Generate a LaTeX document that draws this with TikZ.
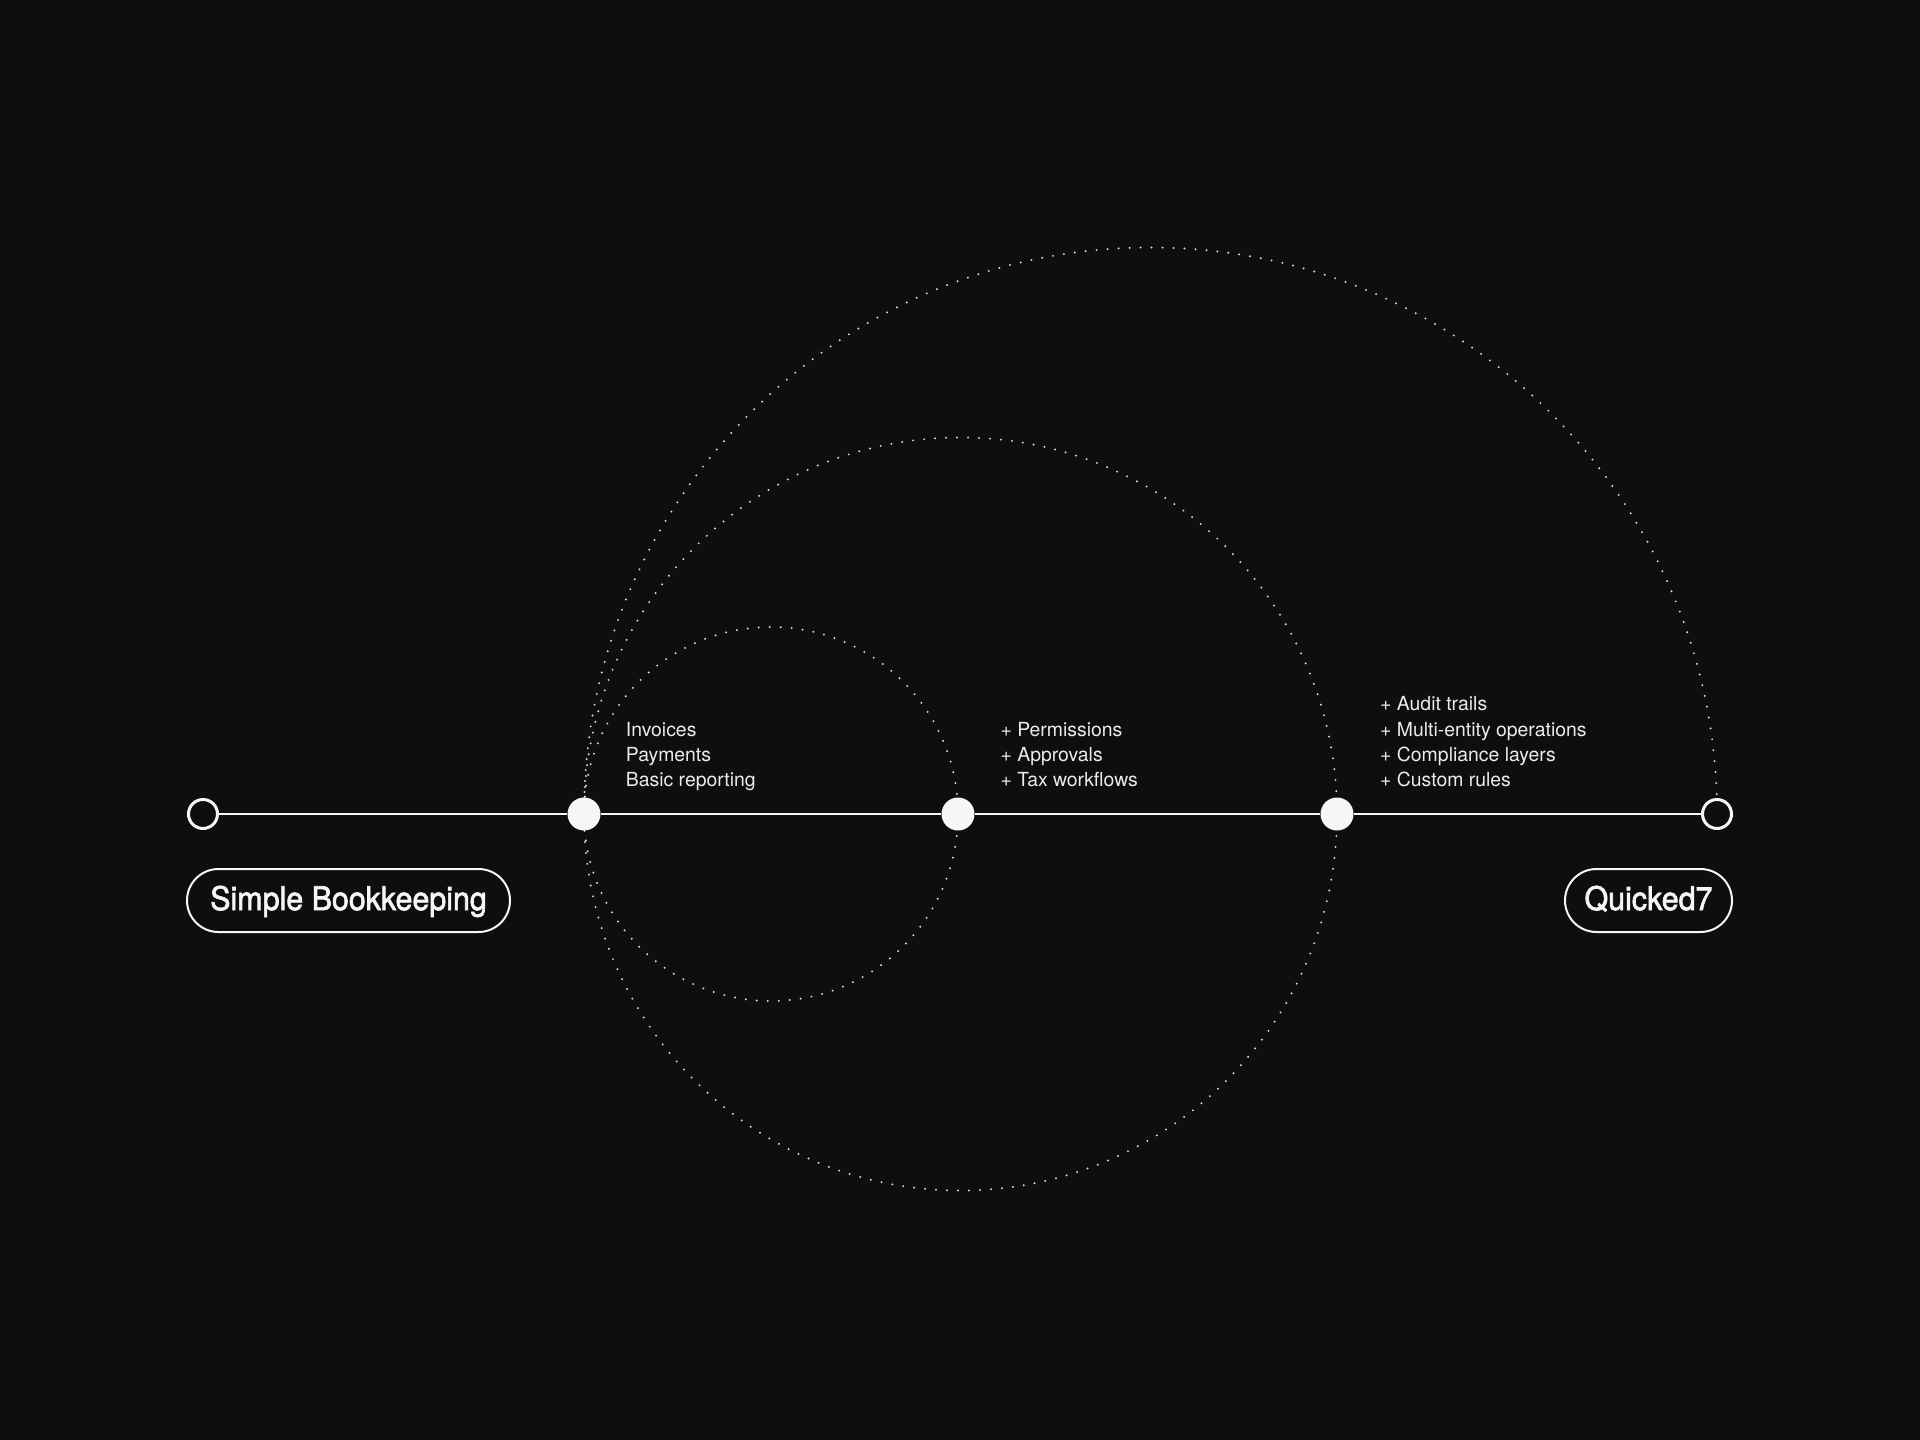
\documentclass[tikz,border=0pt]{standalone}
\usepackage{fontspec}
\setmainfont{TeX Gyre Heros}
\newfontfamily\headfont[FakeStretch=0.935,FakeBold=2]{TeX Gyre Heros}
\definecolor{bg}{HTML}{0E0E0E}
\definecolor{ink}{HTML}{F6F6F6}
\definecolor{dotc}{HTML}{D8D8D8}
\definecolor{txt}{HTML}{EBEBEB}
\begin{document}
\begin{tikzpicture}[x=1pt,y=-1pt,
  dotline/.style={draw=dotc,line width=2.2pt,line cap=round,dash pattern=on 0pt off 11pt},
  mainline/.style={draw=ink,line width=2pt},
  hollow/.style={circle,draw=ink,line width=3pt,fill=bg,minimum size=29pt,inner sep=0pt},
  solid/.style={circle,fill=ink,minimum size=33pt,inner sep=0pt},
  listtext/.style={text=txt,anchor=base west,inner sep=0pt,font=\fontsize{19.4}{25.4}\selectfont},
  pill/.style={draw=ink,line width=2pt,rounded corners=31.5pt,minimum height=63pt,inner sep=0pt,
    text=ink,text height=19pt,text depth=0pt,font=\headfont\fontsize{32.5}{36}\selectfont}]
\fill[bg] (0,0) rectangle (1920,1440);
\useasboundingbox (0,0) rectangle (1920,1440);

% dotted circles
\draw[dotline] (771,814) circle[radius=187];
\draw[dotline] (960.5,814) circle[radius=376.5];
\draw[dotline] (584,814) arc[start angle=180,end angle=360,radius=566.5];

% nodes
\node[hollow] (n0) at (203,814) {};
\node[solid] (n1) at (584,814) {};
\node[solid] (n2) at (958,814) {};
\node[solid] (n3) at (1337,814) {};
\node[hollow] (n4) at (1717,814) {};

\draw[mainline] (n0) -- (n1) -- (n2) -- (n3) -- (n4);

% lists
\node[listtext] (a1) at (625.7,736) {Invoices};
\node[listtext] (a2) at (625.7,761.4) {Payments};
\node[listtext] (a3) at (625.7,786.8) {Basic reporting};

\node[listtext] (b1) at (1000.4,736) {+ Permissions};
\node[listtext] (b2) at (1000.4,761.4) {+ Approvals};
\node[listtext] (b3) at (1000.4,786.8) {+ Tax workflows};

\node[listtext] (c1) at (1380,710.6) {+ Audit trails};
\node[listtext] (c2) at (1380,736) {+ Multi-entity operations};
\node[listtext] (c3) at (1380,761.4) {+ Compliance layers};
\node[listtext] (c4) at (1380,786.8) {+ Custom rules};

% pills
\node[pill,minimum width=323pt] (p1) at (348.5,900.5) {Simple Bookkeeping};
\node[pill,minimum width=167pt] (p2) at (1648.5,900.5) {Quicked7};
\end{tikzpicture}
\end{document}
